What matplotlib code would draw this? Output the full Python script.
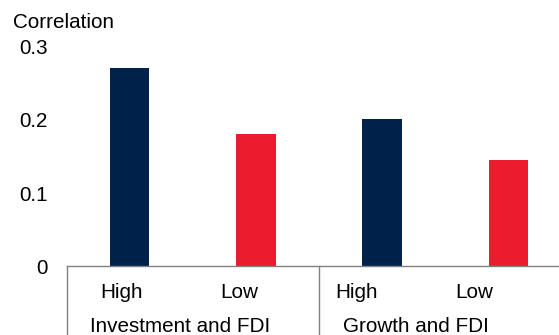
import numpy as np
import matplotlib
matplotlib.use("Agg")
import matplotlib.pyplot as plt
import matplotlib.transforms as mtransforms

plt.rcParams['font.family'] = ['Liberation Sans', 'DejaVu Sans']

# data
groups = ['Investment and FDI', 'Growth and FDI']
categories = ['High', 'Low', 'High', 'Low']
values = [0.27, 0.181, 0.201, 0.145]
bar_colors = ['#00214A', '#EC1C2E', '#00214A', '#EC1C2E']
y_ticks = [0, 0.1, 0.2, 0.3]
y_tick_labels = ['0', '0.1', '0.2', '0.3']

fs = 14.9
grey = '#808080'

fig = plt.figure(figsize=(5.59, 3.35), dpi=100)
ax = fig.add_axes([0.1191, 0.2045, 0.9030, 0.6567])

x = np.arange(len(values))
ax.bar(x, values, width=0.313, color=bar_colors)

ax.set_xlim(-0.5, 3.5)
ax.set_ylim(0, 0.3)
ax.set_yticks(y_ticks)
ax.set_yticklabels(y_tick_labels, fontsize=fs)
ax.tick_params(axis='y', length=0, pad=13.4)
ax.set_xticks([])

for s in ['left', 'top', 'right']:
    ax.spines[s].set_visible(False)
ax.spines['bottom'].set_color(grey)
ax.spines['bottom'].set_linewidth(1.0)

# group separators below the axis
trans = mtransforms.blended_transform_factory(ax.transData, ax.transAxes)
for xs in [-0.5, 1.5, 3.5]:
    ax.plot([xs, xs], [0, -0.32], color=grey, lw=1.0, transform=trans, clip_on=False)

# category and group labels (own layout row)
lab = fig.add_axes([0.112, 0.0, 0.8422, 0.2], frameon=False)
lab.set_xlim(-0.5, 3.5)
lab.set_ylim(0, 1)
lab.axis('off')
ltrans = mtransforms.blended_transform_factory(lab.transData, fig.transFigure)
for i, c in enumerate(categories):
    lab.text(i, 0.1096, c, ha='center', va='baseline', fontsize=fs, transform=ltrans)
for j, g in enumerate(groups):
    lab.text(2 * j + 0.5, 0.0085, g, ha='center', va='baseline', fontsize=fs, transform=ltrans)

fig.text(0.0227, 0.9155, 'Correlation', ha='left', va='baseline', fontsize=fs)

fig.savefig('out.png', dpi=100)
